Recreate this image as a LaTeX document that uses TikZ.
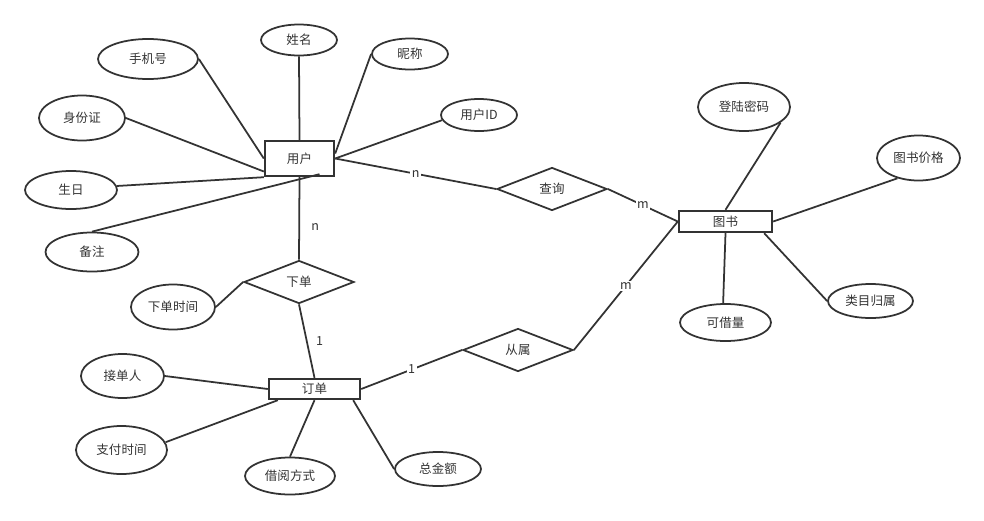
\documentclass[tikz,border=0pt]{standalone}
\usepackage{fontspec}
\setmainfont{Noto Sans CJK SC}
\usepackage{tikz}
\usetikzlibrary{shapes.geometric, calc}

\definecolor{ink}{HTML}{333333}

\begin{document}
\begin{tikzpicture}[
  x=0.025cm, y=-0.025cm,
  every node/.style={font=\fontsize{8.9}{10}\selectfont, text=ink},
  attr/.style 2 args={ellipse, draw=ink, line width=1.25pt, inner sep=0pt,
              minimum width=#1, minimum height=#2},
  entity/.style 2 args={rectangle, draw=ink, line width=1.7pt, inner sep=0pt,
              minimum width=#1, minimum height=#2},
  rel/.style={diamond, draw=ink, line width=1.25pt, inner sep=0pt, aspect=2.6,
              minimum width=2.75cm, minimum height=1.075cm},
  conn/.style={draw=ink, line width=1.25pt},
  card/.style={fill=white, inner sep=1pt}
]
\useasboundingbox (0,0) rectangle (984,520);

% entities
\node[entity={1.725cm}{0.875cm}] (user)  at (299.5,158.5) {用户};
\node[entity={2.275cm}{0.5cm}]   (order) at (314.5,389)   {订单};
\node[entity={2.325cm}{0.525cm}] (book)  at (725.5,221.5) {图书};

% relations
\node[rel] (place)  at (299,282) {下单};
\node[rel] (query)  at (552,189) {查询};
\node[rel] (belong) at (518,350) {从属};

% user attributes
\node[attr={1.9cm}{0.775cm}]   (name)   at (299,40)  {姓名};
\node[attr={2.5cm}{1cm}]       (phone)  at (148,59)  {手机号};
\node[attr={1.9cm}{0.775cm}]   (nick)   at (410,54)  {昵称};
\node[attr={1.9cm}{0.8cm}]     (uid)    at (479,115) {用户ID};
\node[attr={2.15cm}{1.125cm}]  (idcard) at (82,118)  {身份证};
\node[attr={2.3cm}{0.95cm}]    (birth)  at (71,190)  {生日};
\node[attr={2.325cm}{0.975cm}] (note)   at (92,252)  {备注};

% order attributes
\node[attr={2.1cm}{1.125cm}]   (otime)  at (173,307)   {下单时间};
\node[attr={2.075cm}{1.1cm}]   (taker)  at (122.5,376) {接单人};
\node[attr={2.275cm}{1.2cm}]   (ptime)  at (121.5,450) {支付时间};
\node[attr={2.25cm}{0.925cm}]  (borrow) at (290,476)   {借阅方式};
\node[attr={2.15cm}{0.85cm}]   (total)  at (438,469)   {总金额};

% book attributes
\node[attr={2.3cm}{1.2cm}]     (pwd)    at (744,107)   {登陆密码};
\node[attr={2.075cm}{1.125cm}] (price)  at (918.5,158) {图书价格};
\node[attr={2.275cm}{0.925cm}] (stock)  at (725.5,322.5) {可借量};
\node[attr={2.125cm}{0.85cm}]  (cat)    at (870.5,301) {类目归属};

% user links
\draw[conn] (name.south)  -- (user.north);
\draw[conn] (phone.east)  -- (user.west);
\draw[conn] (nick.west)   -- (user.8);
\draw[conn] (uid.188)     -- (user.east);
\draw[conn] (idcard.east) -- (user.200);
\draw[conn] (birth.5)     -- (user.south west);
\draw[conn] (note.north)  -- ($(user.south)+(20,-3)$);

% relation links
\draw[conn] (user.east) -- node[card, pos=0.5] {n} (query.west);
\draw[conn] (query.east) -- node[card, pos=0.5] {m} (book.west);
\draw[conn] (user.south) -- node[pos=0.6, right=7pt, inner sep=1pt] {n} (place.north);
\draw[conn] (place.south) -- node[pos=0.5, right=5pt, inner sep=1pt] {1} (order.north);
\draw[conn] (otime.east) -- (place.west);
\draw[conn] (order.east) -- node[card, pos=0.5] {1} (belong.west);
\draw[conn] (belong.east) -- node[card, pos=0.5] {m} (book.west);

% order links
\draw[conn] (taker.east)  -- (order.west);
\draw[conn] (ptime.10)    -- ($(order.south west)+(10,0)$);
\draw[conn] (borrow.north) -- (order.south);
\draw[conn] (total.west)  -- ($(order.south east)+(-8,0)$);

% book links
\draw[conn] (pwd.-23)   -- (book.north);
\draw[conn] (price.224) -- (book.east);
\draw[conn] (stock.97)  -- (book.south);
\draw[conn] (cat.west)  -- ($(book.south east)+(-9,0)$);
\end{tikzpicture}
\end{document}
